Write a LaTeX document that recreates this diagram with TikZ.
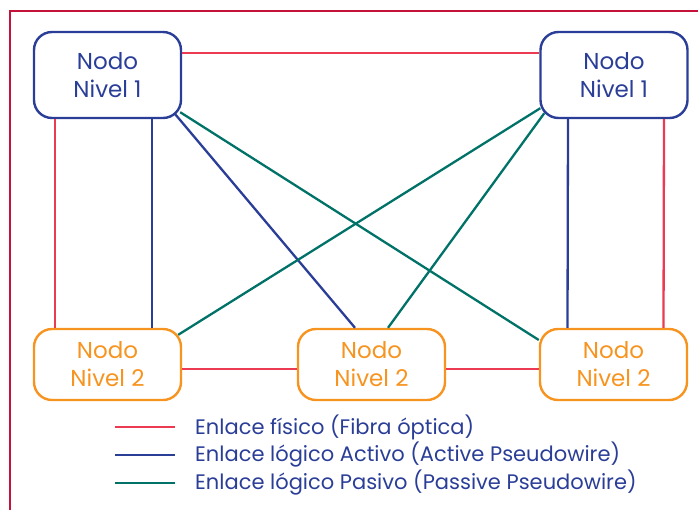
\documentclass[tikz,border=0pt]{standalone}
\usepackage{fontspec}
\setmainfont{Poppins}
\usepackage{xcolor}
\usepackage{tikz}
\usetikzlibrary{positioning}
\definecolor{marco}{RGB}{196,18,58}
\definecolor{rojo}{RGB}{236,58,82}
\definecolor{azul}{RGB}{42,62,152}
\definecolor{verde}{RGB}{0,114,104}
\definecolor{naranja}{RGB}{247,148,32}

\begin{document}
\begin{tikzpicture}[x=1pt,y=-1pt,
  nodo/.style={draw,rounded corners=18pt,line width=2.4pt,minimum width=147pt,align=center,inner sep=0pt,font=\fontsize{23}{28}\selectfont},
  nivelA/.style={nodo,draw=azul,text=azul,minimum height=86pt},
  nivelB/.style={nodo,draw=naranja,text=naranja,minimum height=71pt},
  fisico/.style={draw=rojo,line width=2.3pt},
  activo/.style={draw=azul,line width=2.3pt},
  pasivo/.style={draw=verde,line width=2.3pt},
  leyenda/.style={anchor=west,text=azul,inner sep=0pt,font=\fontsize{21}{24}\selectfont}]
\useasboundingbox (0,0) rectangle (698,509);
\draw[marco,line width=2.6pt] (10,11) rectangle (720,530);
\node[nivelA] (n1l) at (107.5,75) {Nodo\\Nivel 1};
\node[nivelA] (n1r) at (614,75) {Nodo\\Nivel 1};
\node[nivelB] (n2l) at (107.5,364.5) {Nodo\\Nivel 2};
\node[nivelB] (n2m) at (371.5,364.5) {Nodo\\Nivel 2};
\node[nivelB] (n2r) at (613.5,364.5) {Nodo\\Nivel 2};
\draw[fisico] ([yshift=22pt]n1l.east) -- ([yshift=22pt]n1r.west);
\draw[fisico] ([xshift=-52.5pt]n1l.south) -- ([xshift=-52.5pt]n2l.north);
\draw[fisico] ([xshift=50pt]n1r.south) -- ([xshift=50pt]n2r.north);
\draw[fisico] ([yshift=-4.5pt]n2l.east) -- ([yshift=-4.5pt]n2m.west);
\draw[fisico] ([yshift=-4.5pt]n2m.east) -- ([yshift=-4.5pt]n2r.west);
\draw[activo] ([xshift=44.5pt]n1l.south) -- ([xshift=44.5pt]n2l.north);
\draw[activo] ([xshift=-46pt]n1r.south) -- ([xshift=-46pt]n2r.north);
\draw[activo] ([shift={(-7,-5)}]n1l.south east) -- ([xshift=-16.5pt]n2m.north);
\draw[pasivo] ([shift={(-2,-7)}]n1l.south east) -- ([yshift=24.5pt]n2r.west);
\draw[pasivo] ([shift={(1,-11)}]n1r.south west) -- ([shift={(-4,7)}]n2l.north east);
\draw[pasivo] ([shift={(5,-6)}]n1r.south west) -- ([xshift=16.5pt]n2m.north);
\node[leyenda] (lg1) at (195,427) {Enlace físico (Fibra óptica)};
\node[leyenda] (lg2) at (195,455) {Enlace lógico Activo (Active Pseudowire)};
\node[leyenda] (lg3) at (195,483) {Enlace lógico Pasivo (Passive Pseudowire)};
\draw[fisico] ([xshift=-80pt]lg1.west) -- ([xshift=-20pt]lg1.west);
\draw[activo] ([xshift=-80pt]lg2.west) -- ([xshift=-20pt]lg2.west);
\draw[pasivo] ([xshift=-80pt]lg3.west) -- ([xshift=-20pt]lg3.west);
\end{tikzpicture}
\end{document}
